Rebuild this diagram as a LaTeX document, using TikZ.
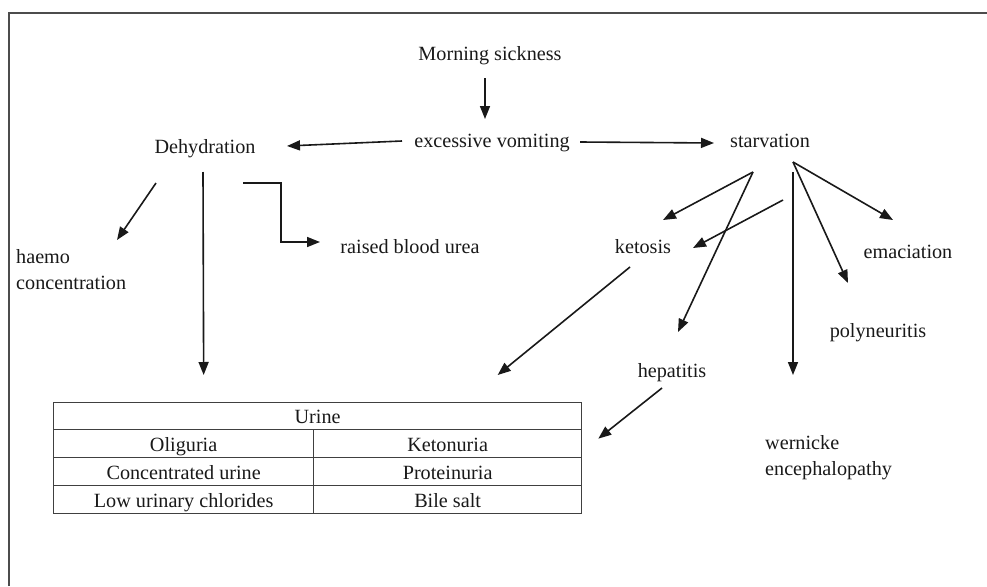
\documentclass[tikz,border=0pt]{standalone}
\usepackage{fontspec}
\setmainfont{Liberation Serif}
\usetikzlibrary{arrows.meta,calc}
\begin{document}
\begin{tikzpicture}[x=1pt,y=-1pt,
  every node/.style={font=\fontsize{20.2}{26}\selectfont, text=black!90, inner sep=0pt},
  lbl/.style={anchor=base},
  mlbl/.style={anchor=base west, align=left},
  arr/.style={draw=black!90, line width=1.6pt, -{Triangle[length=13pt,width=10pt]}},
  cell/.style={draw=black!75, line width=1.3pt, anchor=north west, minimum height=28pt, text height=17pt, text depth=2pt},
  frame/.style={draw=black!70, line width=1.8pt}]
\useasboundingbox (0,0) rectangle (987,586);
\draw[frame] (9,586) -- (9,13) -- (987,13);

% labels
\node[lbl] (morning) at (490,60) {Morning sickness};
\node[lbl] (vom) at (492,147) {excessive vomiting};
\node[lbl] (dehyd) at (205,153) {Dehydration};
\node[lbl] (starv) at (770,147) {starvation};
\node[mlbl] (haemo) at (16,289) {haemo\\concentration};
\node[lbl] (raised) at (410,253) {raised blood urea};
\node[lbl] (ketosis) at (643,253) {ketosis};
\node[lbl] (emac) at (908,258) {emaciation};
\node[lbl] (poly) at (878,337) {polyneuritis};
\node[lbl] (hepa) at (672,377) {hepatitis};
\node[mlbl] (wern) at (765,475) {wernicke\\encephalopathy};

% table
\node[cell, minimum width=528pt, minimum height=27pt] (urine) at (53,402) {Urine};
\node[cell, minimum width=260pt] (c11) at (53,429) {Oliguria};
\node[cell, minimum width=268pt] (c12) at (313,429) {Ketonuria};
\node[cell, minimum width=260pt] (c21) at (53,457) {Concentrated urine};
\node[cell, minimum width=268pt] (c22) at (313,457) {Proteinuria};
\node[cell, minimum width=260pt] (c31) at (53,485) {Low urinary chlorides};
\node[cell, minimum width=268pt] (c32) at (313,485) {Bile salt};

% connectors
\draw[arr] ($(morning.base)+(-5,18)$) -- ($(vom.base)+(-7,-28)$);
\draw[arr] ($(vom.base)+(-90,-6)$) -- ($(dehyd.base)+(82,-7)$);
\draw[arr] ($(vom.base)+(88,-5)$) -- ($(starv.base)+(-56,-4)$);
\draw[arr] ($(dehyd.base)+(-49,30)$) -- ($(haemo.base west)+(101,-49)$);
\draw[arr] ($(dehyd.base)+(-2,19)$) -- ($(urine.north)+(-114,-27)$);
\draw[arr] ($(dehyd.base)+(38,30)$) -- ++(38,0) |- ($(raised.base)+(-90,-11)$);
\draw[arr] ($(starv.base)+(-17,25)$) -- ($(ketosis.base)+(20,-33)$);
\draw[arr] ($(starv.base)+(-17,25)$) -- ($(hepa.base)+(6,-45)$);
\draw[arr] ($(starv.base)+(13,53)$) -- ($(ketosis.base)+(50,-5)$);
\draw[arr] ($(starv.base)+(23,15)$) -- ($(emac.base)+(-15,-38)$);
\draw[arr] ($(starv.base)+(23,15)$) -- ($(poly.base)+(-30,-54)$);
\draw[arr] ($(starv.base)+(23,25)$) -- ($(wern.base west)+(28,-100)$);
\draw[arr] ($(ketosis.base)+(-13,14)$) -- ($(urine.north)+(180,-27)$);
\draw[arr] ($(hepa.base)+(-10,11)$) -- ($(c12.east)+(16,-5)$);
\end{tikzpicture}
\end{document}
